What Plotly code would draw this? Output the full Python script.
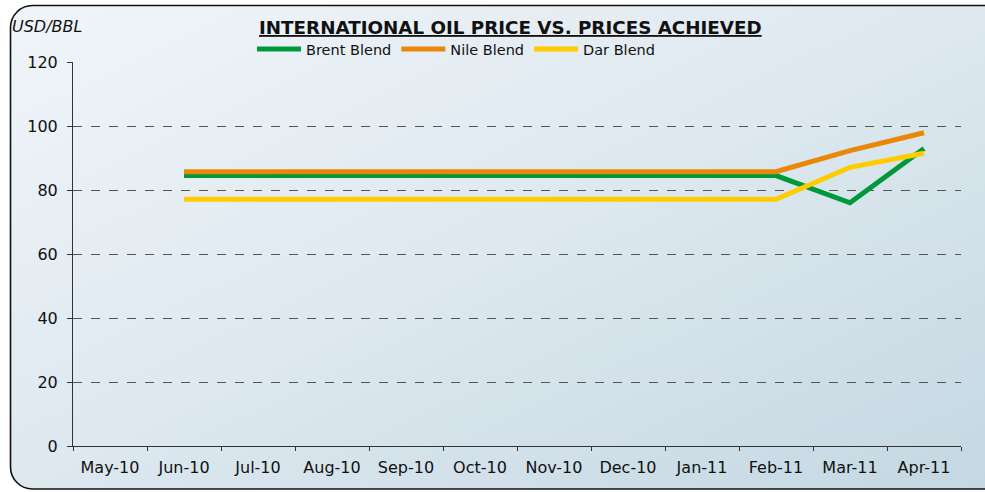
import base64
import plotly.graph_objects as go

months = ["May-10", "Jun-10", "Jul-10", "Aug-10", "Sep-10", "Oct-10", "Nov-10",
          "Dec-10", "Jan-11", "Feb-11", "Mar-11", "Apr-11"]
brent = [None, 84.5, 84.5, 84.5, 84.5, 84.5, 84.5, 84.5, 84.5, 84.5, 76.0, 93.0]
nile = [None, 85.7, 85.7, 85.7, 85.7, 85.7, 85.7, 85.7, 85.7, 85.7, 92.3, 97.9]
dar = [None, 77.1, 77.1, 77.1, 77.1, 77.1, 77.1, 77.1, 77.1, 77.1, 87.1, 91.5]
y_ticks = [0, 20, 40, 60, 80, 100, 120]

W, H = 985, 492
ML, MR, MT, MB = 73, 24, 62, 46
PW, PH = W - ML - MR, H - MT - MB

FONT = "DejaVu Sans, Verdana, sans-serif"

svg = f'''<svg xmlns="http://www.w3.org/2000/svg" width="{W}" height="{H}" viewBox="0 0 {W} {H}" preserveAspectRatio="none">
<defs><linearGradient id="g" x1="0" y1="0" x2="1" y2="1">
<stop offset="0" stop-color="#f1f5f9"/><stop offset="0.5" stop-color="#dde8ef"/><stop offset="1" stop-color="#c3d7e2"/></linearGradient></defs>
<rect x="10.5" y="5.5" width="1010" height="483.5" rx="22" ry="22" fill="url(#g)" stroke="#111" stroke-width="1.6"/>
</svg>'''
uri = "data:image/svg+xml;base64," + base64.b64encode(svg.encode()).decode()

fig = go.Figure()
for name, vals, col in [("Brent Blend", brent, "#00993a"),
                        ("Nile Blend", nile, "#ea8709"),
                        ("Dar Blend", dar, "#ffcc00")]:
    fig.add_trace(go.Scatter(x=months, y=vals, name=name, mode="lines",
                             line=dict(color=col, width=5), connectgaps=False))

fig.update_layout(
    width=W, height=H,
    margin=dict(l=ML, r=MR, t=MT, b=MB),
    paper_bgcolor="white", plot_bgcolor="rgba(0,0,0,0)",
    font=dict(family=FONT, size=16, color="#111"),
    showlegend=True,
    legend=dict(orientation="h", x=(252 - ML) / PW, y=1 + (MT - 49) / PH,
                xanchor="left", yanchor="middle", bgcolor="rgba(0,0,0,0)",
                font=dict(size=14.5, family=FONT, color="#111"),
                itemwidth=44, tracegroupgap=0),
    images=[dict(source=uri, xref="paper", yref="paper",
                 x=-ML / PW, y=1 + MT / PH, sizex=W / PW, sizey=H / PH,
                 xanchor="left", yanchor="top", sizing="stretch", layer="below")],
    xaxis=dict(type="category", categoryorder="array", categoryarray=months,
               range=[-0.5, 11.5], tickson="boundaries", ticks="outside",
               ticklen=4, tickcolor="#333", showline=True, linecolor="#333",
               linewidth=1, showgrid=False, tickfont=dict(size=16), fixedrange=True,
               ticklabelstandoff=7),
    yaxis=dict(range=[0, 120], tickvals=y_ticks, ticks="outside", ticklen=5,
               tickcolor="#333", showline=True, linecolor="#333", linewidth=1,
               showgrid=True, gridcolor="#555", griddash="dash", gridwidth=1,
               zeroline=False, tickfont=dict(size=16), ticklabelstandoff=6,
               fixedrange=True),
    annotations=[
        dict(text="<b><u>INTERNATIONAL OIL PRICE VS. PRICES ACHIEVED</u></b>",
             xref="paper", yref="paper", x=(510 - ML) / PW, y=1 + (MT - 27) / PH,
             xanchor="center", yanchor="middle", showarrow=False,
             font=dict(size=18.3, family=FONT, color="#111")),
        dict(text="<i>USD/BBL</i>", xref="paper", yref="paper",
             x=(10 - ML) / PW, y=1 + (MT - 26) / PH, xanchor="left", yanchor="middle",
             showarrow=False, font=dict(size=16, family=FONT, color="#111")),
    ],
)

fig.write_html("out.html", config={"displayModeBar": False},
               post_script="document.body.style.margin='0';document.body.style.padding='0';")
